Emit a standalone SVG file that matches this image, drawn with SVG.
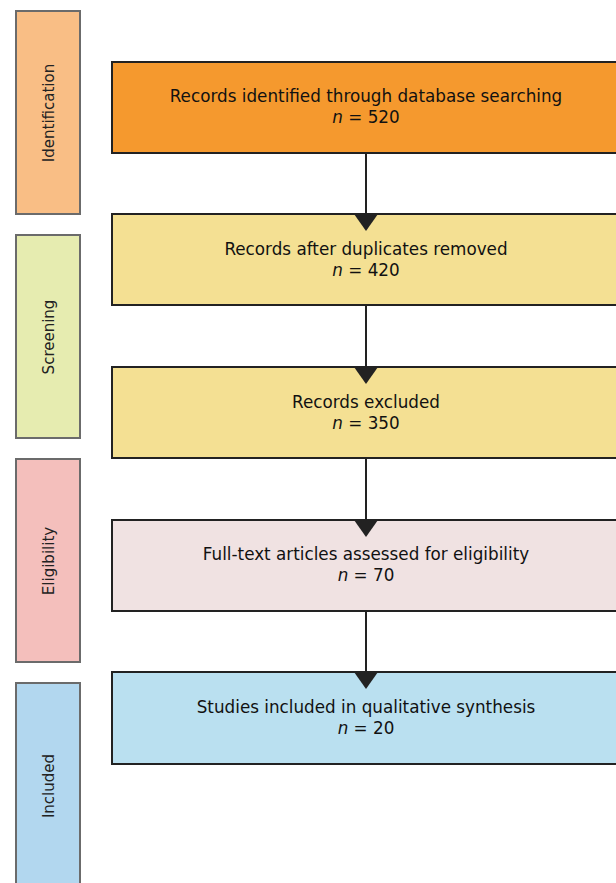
<svg xmlns="http://www.w3.org/2000/svg" width="616" height="883" viewBox="0 0 616 883">
<defs>
<style>
.side{stroke:#6b6b6b;stroke-width:2}
.main{stroke:#222;stroke-width:2}
.lbl{font-family:"DejaVu Sans",sans-serif;font-size:15px;fill:#222;text-anchor:middle}
.txt{font-family:"DejaVu Sans",sans-serif;font-size:16.8px;fill:#111;text-anchor:middle}
.conn{stroke:#222;stroke-width:2;fill:none}
.head{fill:#222}
</style>
</defs>
<rect width="616" height="883" fill="#fff"/>
<g id="phase-identification"><rect class="side" x="16" y="11" width="64" height="203" fill="#F9BE85"/><text class="lbl" transform="translate(54,113) rotate(-90)">Identification</text></g>
<g id="phase-screening"><rect class="side" x="16" y="235" width="64" height="203" fill="#E6ECB0"/><text class="lbl" transform="translate(54,337) rotate(-90)">Screening</text></g>
<g id="phase-eligibility"><rect class="side" x="16" y="459" width="64" height="203" fill="#F4BFBC"/><text class="lbl" transform="translate(54,561) rotate(-90)">Eligibility</text></g>
<g id="phase-included"><rect class="side" x="16" y="683" width="64" height="210" fill="#B2D7EF"/><text class="lbl" transform="translate(54,786) rotate(-90)">Included</text></g>
<g id="connectors">
<line class="conn" x1="366" y1="153" x2="366" y2="216"/>
<line class="conn" x1="366" y1="305" x2="366" y2="369"/>
<line class="conn" x1="366" y1="458" x2="366" y2="522"/>
<line class="conn" x1="366" y1="611" x2="366" y2="674"/>
</g>
<g id="n1"><rect class="main" x="112" y="62" width="520" height="91" fill="#F5992E"/><text class="txt" x="366" y="102">Records identified through database searching</text><text class="txt" x="366" y="123"><tspan font-style="italic">n</tspan> = 520</text></g>
<g id="n2"><rect class="main" x="112" y="214" width="520" height="91" fill="#F4E093"/><text class="txt" x="366" y="255">Records after duplicates removed</text><text class="txt" x="366" y="276"><tspan font-style="italic">n</tspan> = 420</text></g>
<g id="n3"><rect class="main" x="112" y="367" width="520" height="91" fill="#F4E093"/><text class="txt" x="366" y="408">Records excluded</text><text class="txt" x="366" y="429"><tspan font-style="italic">n</tspan> = 350</text></g>
<g id="n4"><rect class="main" x="112" y="520" width="520" height="91" fill="#F0E2E2"/><text class="txt" x="366" y="560">Full-text articles assessed for eligibility</text><text class="txt" x="366" y="581"><tspan font-style="italic">n</tspan> = 70</text></g>
<g id="n5"><rect class="main" x="112" y="672" width="520" height="92" fill="#BAE0F0"/><text class="txt" x="366" y="713">Studies included in qualitative synthesis</text><text class="txt" x="366" y="734"><tspan font-style="italic">n</tspan> = 20</text></g>
<g id="arrowheads">
<polygon class="head" points="354,214 378,214 366,231"/>
<polygon class="head" points="354,367 378,367 366,384"/>
<polygon class="head" points="354,520 378,520 366,537"/>
<polygon class="head" points="354,672 378,672 366,689"/>
</g>
</svg>
